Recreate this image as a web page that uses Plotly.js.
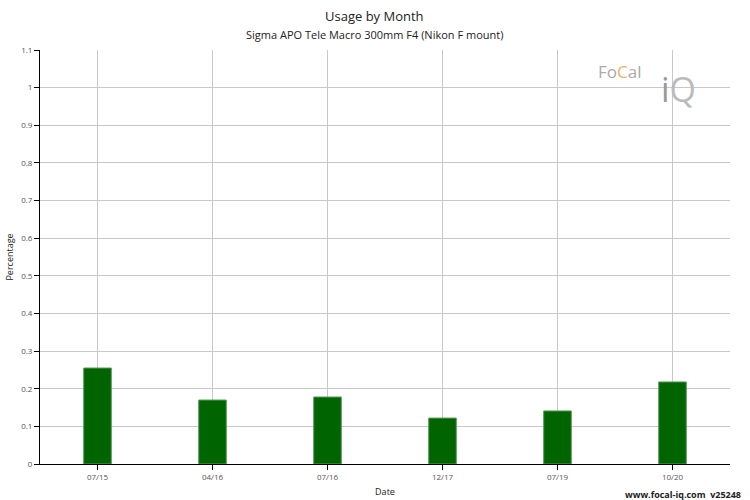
<!DOCTYPE html>
<html>
<head>
<meta charset="utf-8">
<script src="https://cdn.plot.ly/plotly-3.0.1.min.js"></script>
<style>html,body{margin:0;padding:0;background:#fff}#chart{width:750px;height:500px}</style>
</head>
<body>
<div id="chart"></div>
<script>
var categories = ["07/15", "04/16", "07/16", "12/17", "07/19", "10/20"];
var usage = [0.255, 0.170, 0.178, 0.122, 0.141, 0.218];
var yTicks = [0, 0.1, 0.2, 0.3, 0.4, 0.5, 0.6, 0.7, 0.8, 0.9, 1, 1.1];

var trace = {
  type: "bar",
  x: categories,
  y: usage,
  width: 0.24,
  marker: {color: "#006400", line: {color: "#5a9a5a", width: 1}},
  hoverinfo: "x+y"
};

var layout = {
  width: 750, height: 500,
  margin: {l: 40, r: 20, t: 50, b: 36},
  paper_bgcolor: "#fff", plot_bgcolor: "#fff",
  font: {family: "Open Sans, sans-serif", color: "#444"},
  showlegend: false,
  xaxis: {
    type: "category",
    range: [-0.5, 5.5],
    showgrid: true, gridcolor: "#c8c8c8", gridwidth: 1,
    showline: true, linecolor: "#000", linewidth: 1,
    ticks: "outside", ticklen: 5, tickcolor: "#000",
    tickfont: {size: 8, color: "#555"},
    title: {text: "Date", font: {size: 9, color: "#222"}, standoff: 8},
    zeroline: false, fixedrange: true
  },
  yaxis: {
    range: [0, 1.1],
    tickvals: yTicks,
    ticktext: yTicks.map(String),
    showgrid: true, gridcolor: "#c8c8c8", gridwidth: 1,
    showline: true, linecolor: "#000", linewidth: 1,
    ticks: "outside", ticklen: 5, tickcolor: "#000",
    tickfont: {size: 8, color: "#555"},
    title: {text: "Percentage", font: {size: 9, color: "#222"}, standoff: 6},
    zeroline: false, fixedrange: true
  },
  annotations: [
    {text: "Usage by Month", xref: "paper", yref: "paper", x: 0.485, y: 1.082,
     xanchor: "center", yanchor: "middle", showarrow: false,
     font: {size: 13, color: "#222"}},
    {text: "Sigma APO Tele Macro 300mm F4 (Nikon F mount)", xref: "paper", yref: "paper", x: 0.485, y: 1.0386,
     xanchor: "center", yanchor: "middle", showarrow: false,
     font: {size: 11, color: "#222"}},
    {text: "www.focal-iq.com  v25248", xref: "paper", yref: "paper", x: 1.0188, y: -0.0725,
     xanchor: "right", yanchor: "middle", showarrow: false,
     font: {size: 9, color: "#222", family: "Open Sans, sans-serif", weight: "bold"}},
    {text: "Fo<span style='color:#e8b070'>C</span>al", xref: "paper", yref: "paper", x: 0.84, y: 0.947,
     xanchor: "center", yanchor: "middle", showarrow: false,
     font: {size: 17, color: "#aaa", family: "Open Sans, sans-serif"}},
    {text: "i<span style='color:#bbb'>Q</span>", xref: "paper", yref: "paper", x: 0.925, y: 0.905,
     xanchor: "center", yanchor: "middle", showarrow: false,
     font: {size: 34, color: "#999", family: "Open Sans, sans-serif"}}
  ]
};

Plotly.newPlot("chart", [trace], layout, {displayModeBar: false, staticPlot: true});
</script>
</body>
</html>
